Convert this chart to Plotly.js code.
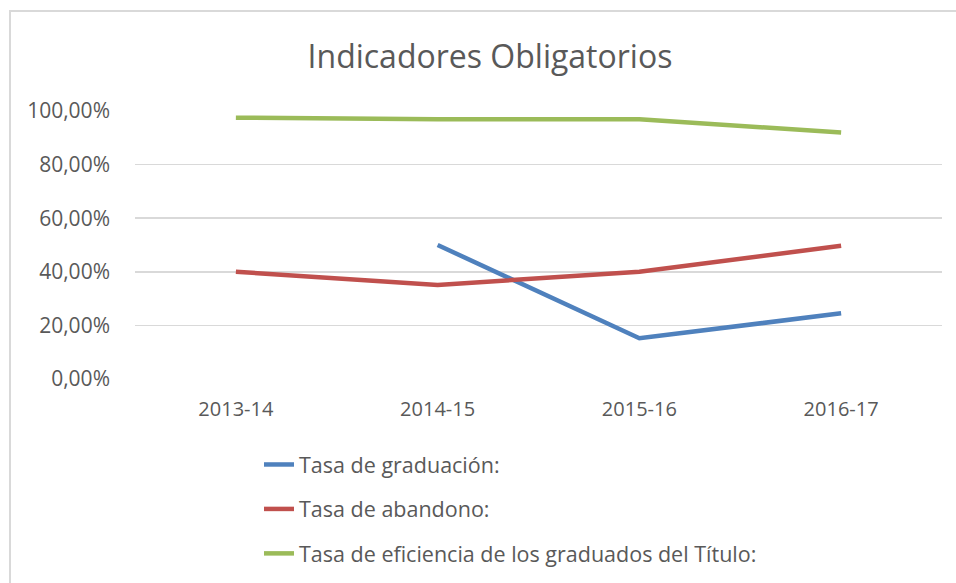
<!DOCTYPE html>
<html>
<head>
<meta charset="utf-8">
<script src="https://cdn.plot.ly/plotly-3.0.1.min.js"></script>
<style>html,body{margin:0;padding:0;background:#fff;}#chart{width:956px;height:583px;}</style>
</head>
<body>
<div id="chart"></div>
<script>
const categories = ["2013-14", "2014-15", "2015-16", "2016-17"];
const seriesNames = ["Tasa de graduación:", "Tasa de abandono:", "Tasa de eficiencia de los graduados del Título:"];
const graduacion = [null, 0.50, 0.152, 0.245];
const abandono = [0.40, 0.351, 0.40, 0.497];
const eficiencia = [0.975, 0.969, 0.969, 0.92];
const yTicks = [0, 0.2, 0.4, 0.6, 0.8, 1.0];

const colors = ["#4F81BD", "#C0504D", "#9BBB59"];
const seriesValues = [graduacion, abandono, eficiencia];
const FONT = "'Open Sans', Lato, sans-serif";

const traces = seriesValues.map((vals, i) => ({
  type: "scatter",
  mode: "lines",
  x: categories,
  y: vals,
  name: seriesNames[i],
  legendgroup: "g" + i,
  line: {color: colors[i], width: 4.5},
  connectgaps: false,
  hoverinfo: "skip"
}));

const W = 956, H = 583;
const L = 135, R = 14, T = 111, B = 204;
const pw = W - L - R, ph = H - T - B;
const px = v => (v - L) / pw;
const py = v => (H - B - v) / ph;

const layout = {
  width: W, height: H,
  margin: {l: L, r: R, t: T, b: B, pad: 0, autoexpand: false},
  paper_bgcolor: "#ffffff",
  plot_bgcolor: "#ffffff",
  separators: ",.",
  font: {family: FONT, color: "#595959", size: 20},
  title: {
    text: "Indicadores Obligatorios",
    font: {family: FONT, size: 32, color: "#595959"},
    x: 490 / W, xref: "container", xanchor: "center",
    y: 1 - 57 / H, yref: "container", yanchor: "middle"
  },
  xaxis: {
    type: "category",
    range: [-0.5, 3.5],
    showgrid: false,
    showline: false,
    zeroline: false,
    ticks: "",
    ticklabelstandoff: 16,
    tickfont: {family: FONT, size: 20, color: "#595959"},
    fixedrange: true
  },
  yaxis: {
    range: [0, 1.0],
    tickvals: yTicks,
    tickformat: ".2%",
    showgrid: true,
    gridcolor: "#d9d9d9",
    gridwidth: 1.5,
    zeroline: false,
    showline: false,
    ticks: "",
    ticklabelstandoff: 24,
    tickfont: {family: FONT, size: 21, color: "#595959"},
    fixedrange: true
  },
  showlegend: true,
  legend: {
    orientation: "v",
    xref: "container", yref: "container",
    x: 259 / W, xanchor: "left",
    y: 1 - 444 / H, yanchor: "top",
    font: {family: FONT, size: 21.5, color: "#595959"},
    tracegroupgap: 13.5,
    bgcolor: "rgba(0,0,0,0)"
  },
  shapes: [{
    type: "rect", xref: "paper", yref: "paper",
    x0: px(10), x1: px(990), y0: py(11), y1: py(640),
    line: {color: "#d9d9d9", width: 2},
    fillcolor: "rgba(0,0,0,0)",
    layer: "below"
  }]
};

Plotly.newPlot("chart", traces, layout, {displayModeBar: false, staticPlot: true});
</script>
</body>
</html>
